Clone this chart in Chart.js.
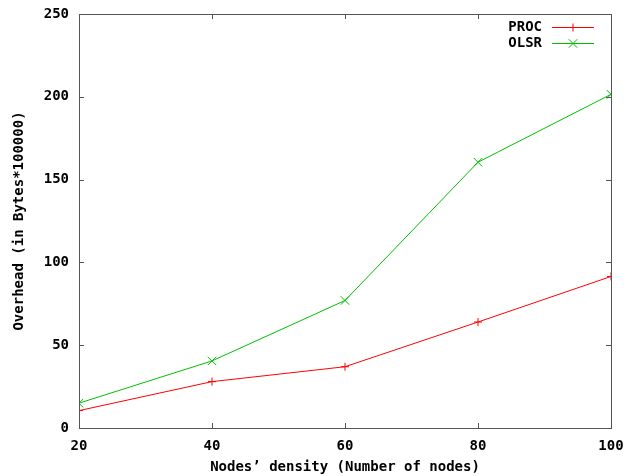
<!DOCTYPE html>
<html>
<head>
<meta charset="utf-8">
<script src="https://cdn.jsdelivr.net/npm/chart.js@4/dist/chart.umd.min.js"></script>
<style>
  html, body { margin: 0; padding: 0; background: #fff; }
  #wrap { width: 629px; height: 476px; }
</style>
</head>
<body>
<div id="wrap"><canvas id="overhead"></canvas></div>
<script>
// node densities
const nodes = [20, 40, 60, 80, 100];
// overhead in bytes*100000
const proc_values = [10.5, 28, 37, 64, 91.5];
const olsr_values = [15, 40.5, 77, 160.5, 201.5];

const FRAME = '#555555';
const MONO = '"DejaVu Sans Mono", "Liberation Mono", monospace';

Chart.defaults.font.family = MONO;
Chart.defaults.font.size = 14;
Chart.defaults.font.weight = 'bold';
Chart.defaults.color = '#000';

// gnuplot style box with inward ticks on all sides
const frame = {
  id: 'frame',
  afterDraw(chart) {
    const {ctx, chartArea: a, scales} = chart;
    ctx.save();
    ctx.strokeStyle = FRAME;
    ctx.lineWidth = 1;
    ctx.strokeRect(a.left + 0.5, a.top + 0.5, a.right - a.left, a.bottom - a.top);
    ctx.beginPath();
    scales.x.ticks.forEach(t => {
      const px = Math.round(scales.x.getPixelForValue(t.value)) + 0.5;
      ctx.moveTo(px, a.bottom); ctx.lineTo(px, a.bottom - 5);
      ctx.moveTo(px, a.top); ctx.lineTo(px, a.top + 5);
    });
    scales.y.ticks.forEach(t => {
      const py = Math.round(scales.y.getPixelForValue(t.value)) + 0.5;
      ctx.moveTo(a.left, py); ctx.lineTo(a.left + 5, py);
      ctx.moveTo(a.right, py); ctx.lineTo(a.right - 5, py);
    });
    ctx.stroke();

    // key, top right inside the box
    const textRight = 542, x0 = 552, x1 = 594;
    chart.data.datasets.forEach((ds, i) => {
      const y = 27 + i * 16;
      ctx.fillStyle = '#000';
      ctx.font = 'bold 14px ' + MONO;
      ctx.textAlign = 'right';
      ctx.textBaseline = 'middle';
      ctx.fillText(ds.label, textRight, y);
      ctx.strokeStyle = ds.borderColor;
      ctx.beginPath();
      ctx.moveTo(x0, y + 0.5); ctx.lineTo(x1, y + 0.5);
      ctx.stroke();
      Chart.helpers.drawPoint(ctx, {pointStyle: ds.pointStyle, radius: ds.pointRadius, borderWidth: 1},
        (x0 + x1) / 2, y + 0.5);
    });
    ctx.restore();
  }
};

new Chart(document.getElementById('overhead'), {
  type: 'line',
  data: {
    datasets: [
      {
        label: 'PROC',
        data: nodes.map((n, i) => ({x: n, y: proc_values[i]})),
        borderColor: '#ff0000',
        backgroundColor: '#ff0000',
        borderWidth: 1,
        pointStyle: 'cross',
        pointRadius: 4,
        pointBorderWidth: 1,
        tension: 0,
        fill: false
      },
      {
        label: 'OLSR',
        data: nodes.map((n, i) => ({x: n, y: olsr_values[i]})),
        borderColor: '#00c000',
        backgroundColor: '#00c000',
        borderWidth: 1,
        pointStyle: 'crossRot',
        pointRadius: 6,
        pointBorderWidth: 1,
        tension: 0,
        fill: false
      }
    ]
  },
  plugins: [frame],
  options: {
    responsive: true,
    maintainAspectRatio: false,
    animation: false,
    layout: { padding: { top: 14, right: 18, left: 0, bottom: 0 } },
    plugins: {
      legend: { display: false },
      tooltip: { enabled: false }
    },
    scales: {
      x: {
        type: 'linear',
        min: 20,
        max: 100,
        grid: { display: false },
        border: { display: false },
        ticks: { stepSize: 20, padding: 2, maxRotation: 0 },
        title: {
          display: true,
          text: 'Nodes\u2019 density (Number of nodes)',
          padding: { top: 0, bottom: 0 }
        },
        afterFit: s => { s.height = 48; s.paddingLeft = 0; s.paddingRight = 0; }
      },
      y: {
        min: 0,
        max: 250,
        grid: { display: false },
        border: { display: false },
        ticks: { stepSize: 50, padding: 2 },
        title: {
          display: true,
          text: 'Overhead (in Bytes*100000)',
          padding: { top: 11, bottom: 0 }
        },
        afterFit: s => { s.width = 79; s.paddingTop = 0; s.paddingBottom = 0; }
      }
    }
  }
});
</script>
</body>
</html>
